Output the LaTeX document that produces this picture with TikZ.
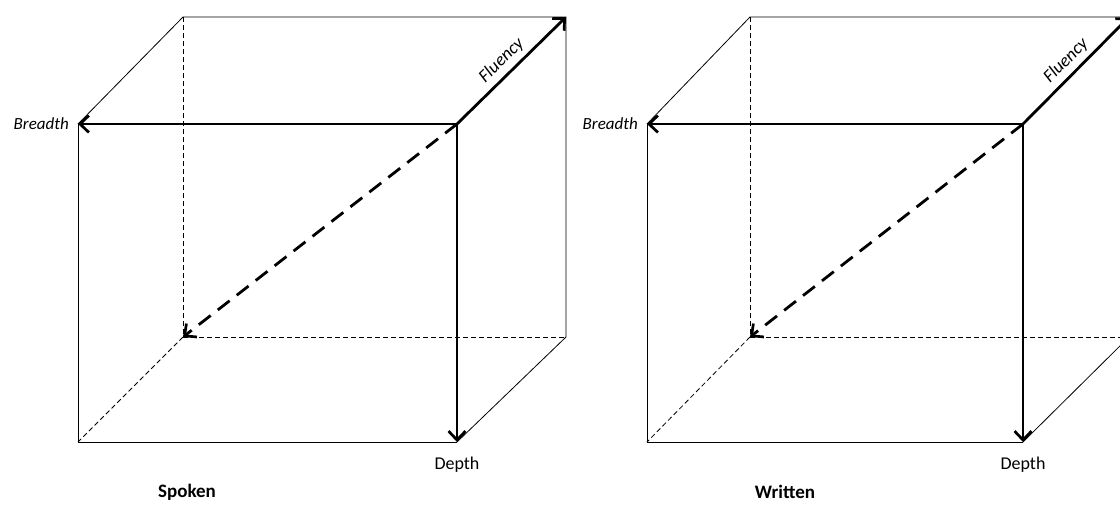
\documentclass[tikz,border=0pt]{standalone}
\usepackage{fontspec}
\setmainfont{Carlito}
\usetikzlibrary{arrows.meta}
\begin{document}
\begin{tikzpicture}[x=1pt,y=-1pt,
  edge/.style={line width=0.8pt, black},
  hidden/.style={line width=0.8pt, black, dash pattern=on 5pt off 3pt},
  axis/.style={line width=2.8pt, black, -{Straight Barb[length=9pt,width=17pt,line width=2.7pt]}},
  axisdash/.style={axis, dash pattern=on 15pt off 9pt},
  axlab/.style={font=\fontsize{17}{17}\selectfont\itshape, inner sep=1pt},
  flulab/.style={font=\fontsize{18}{18}\selectfont\itshape, inner sep=1pt},
  deplab/.style={font=\fontsize{18}{18}\selectfont, inner sep=1pt},
  title/.style={font=\fontsize{19}{19}\selectfont\bfseries, inner sep=1pt}]
\useasboundingbox (0,0) rectangle (1120,504);
\clip (0,0) rectangle (1120,504);
\foreach \p/\fl/\fr/\bl/\br/\tx/\ttl in {L/78/457/183/566/187/Spoken, R/647/1023/750/1129/785/Written}{
  \coordinate (\p FTL) at (\fl,124);
  \coordinate (\p FTR) at (\fr,124);
  \coordinate (\p FBL) at (\fl,442);
  \coordinate (\p FBR) at (\fr,442);
  \coordinate (\p BTL) at (\bl,17);
  \coordinate (\p BTR) at (\br,17);
  \coordinate (\p BBL) at (\bl,337);
  \coordinate (\p BBR) at (\br,337);
  % visible thin edges
  \draw[edge] (\p FTL) -- (\p FBL) -- (\p FBR);
  \draw[edge] (\p FTL) -- (\p BTL) -- (\p BTR) -- (\p BBR) -- (\p FBR);
  % hidden edges
  \draw[hidden] (\p BTL) -- (\p BBL) -- (\p BBR);
  \draw[hidden] (\p BBL) -- (\p FBL);
  % axes
  \draw[axis] (\p FTR) -- (\p FTL);
  \draw[axis] (\p FTR) -- (\p FBR);
  \draw[axis] (\p FTR) -- (\p BTR) node[pos=0.5, sloped, above=4pt, flulab] (\p flu) {Fluency};
  \draw[axisdash] (\p FTR) -- (\p BBL);
  % labels
  \node[axlab, anchor=east] (\p bre) at ([xshift=-8pt]\p FTL) {Breadth};
  \path (\p FBR) ++(0,23) node[deplab] (\p dep) {Depth};
  \node[title] (\p ttl) at (\tx,492) {\ttl};
}
\end{tikzpicture}
\end{document}
